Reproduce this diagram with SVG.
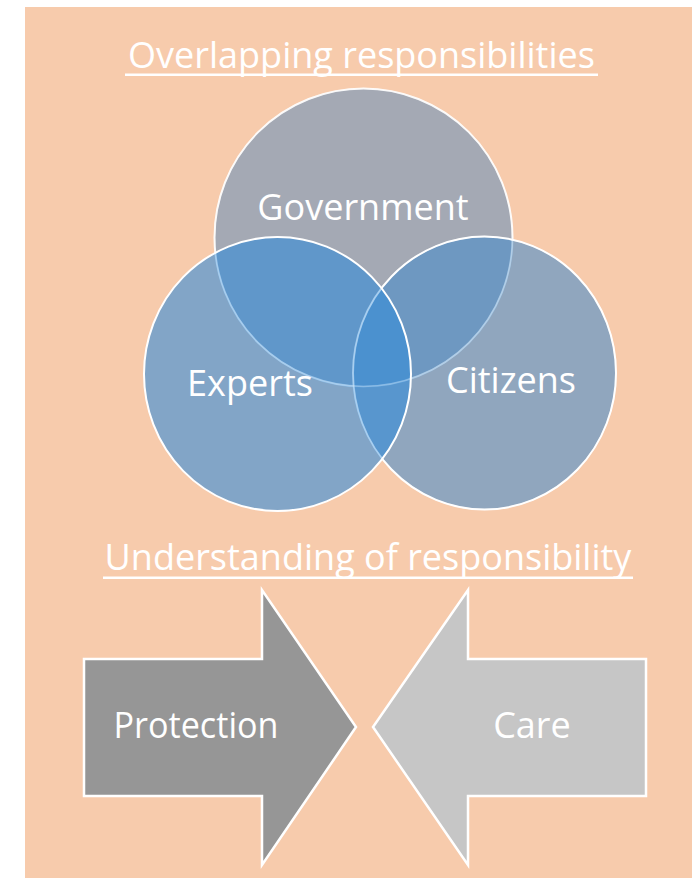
<svg xmlns="http://www.w3.org/2000/svg" width="692" height="878" viewBox="0 0 692 878">
  <style>
    .label { font-family: "Open Sans", "Noto Sans", "Liberation Sans", sans-serif; font-size: 36px; fill: #ffffff; text-anchor: middle; }
    .title { font-family: "Open Sans", "Noto Sans", "Liberation Sans", sans-serif; font-size: 36px; fill: #ffffff; text-anchor: middle; }
    .venn { stroke: #ffffff; stroke-width: 2; }
    .arrow { stroke: #ffffff; stroke-width: 2.5; stroke-linejoin: miter; }
  </style>
  <rect x="0" y="0" width="692" height="878" fill="#ffffff"/>
  <rect x="25" y="7" width="667" height="871" fill="#F7CBAC"/>

  <!-- headings -->
  <g id="title-overlap">
    <text class="title" x="361.5" y="68">Overlapping responsibilities</text>
    <rect x="125" y="73.5" width="473" height="2.5" fill="#ffffff"/>
  </g>
  <g id="title-understanding">
    <text class="title" x="368" y="570">Understanding of responsibility</text>
    <rect x="103" y="576.5" width="530" height="2.5" fill="#ffffff"/>
  </g>

  <!-- Venn circles: government below, citizens, experts on top -->
  <g id="government">
    <circle class="venn" cx="363.5" cy="237.5" r="149" fill="rgb(81,135,188)" fill-opacity="0.5" stroke-opacity="0.9"/>
  </g>
  <g id="citizens">
    <ellipse class="venn" cx="484.5" cy="373" rx="131.5" ry="136.5" fill="rgb(75,141,202)" fill-opacity="0.6"/>
  </g>
  <g id="experts">
    <ellipse class="venn" cx="277.5" cy="374" rx="133.5" ry="137" fill="rgb(52,140,217)" fill-opacity="0.6"/>
  </g>
  <!-- faint outlines seen through the upper circles -->
  <g id="venn-edges" fill="none" stroke="#ffffff" stroke-opacity="0.3" stroke-width="1.5">
    <circle cx="363.5" cy="237.5" r="149"/>
    <ellipse cx="484.5" cy="373" rx="131.5" ry="136.5"/>
  </g>
  <g id="venn-labels">
    <text class="label" x="363" y="220">Government</text>
    <text class="label" x="250" y="396">Experts</text>
    <text class="label" x="511" y="393">Citizens</text>
  </g>

  <!-- opposing arrows -->
  <g id="protection">
    <polygon class="arrow" points="84,659 262,659 262,590 356,727 262,865 262,796 84,796" fill="#969696"/>
    <text class="label" x="196" y="738" textLength="165" lengthAdjust="spacingAndGlyphs">Protection</text>
  </g>
  <g id="care">
    <polygon class="arrow" points="646,659 468,659 468,590 373,727 468,865 468,796 646,796" fill="#C6C6C6"/>
    <text class="label" x="532" y="738">Care</text>
  </g>
</svg>
